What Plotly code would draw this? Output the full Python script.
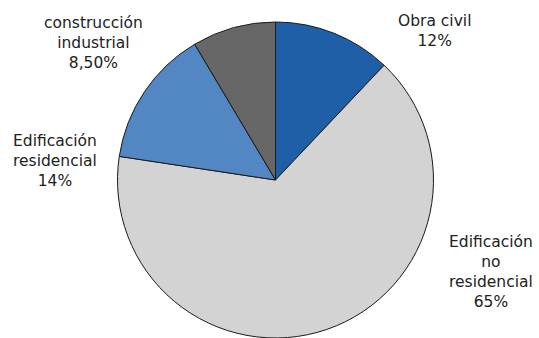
import plotly.graph_objects as go

# Construction output by segment (share of total, %)
segments = ["Obra civil", "Edificación no residencial", "Edificación residencial", "construcción industrial"]
shares = [12, 65, 14, 8.5]
share_labels = ["12%", "65%", "14%", "8,50%"]
label_lines = ["Obra civil", "Edificación<br>no<br>residencial", "Edificación<br>residencial", "construcción<br>industrial"]
colors = ["#1F5FA8", "#D3D3D3", "#5387C3", "#676767"]

# Label anchor positions (pixels from top-left) for each segment
label_pos = [(434, 31), (491, 272), (55, 161), (94, 43)]

W, H = 539, 338

fig = go.Figure(
    go.Pie(
        labels=segments,
        values=shares,
        sort=False,
        direction="clockwise",
        rotation=0,
        marker=dict(colors=colors, line=dict(color="#1a1a1a", width=1)),
        textinfo="none",
        hoverinfo="label+percent",
        domain=dict(x=[116 / W, 435 / W], y=[0, 316 / H]),
        showlegend=False,
    )
)

for text, pct, (px, py) in zip(label_lines, share_labels, label_pos):
    fig.add_annotation(
        x=px / W,
        y=1 - py / H,
        xref="paper",
        yref="paper",
        xanchor="center",
        yanchor="middle",
        align="center",
        showarrow=False,
        text=f"{text}<br>{pct}",
        font=dict(family="DejaVu Sans", size=15.5, color="#222222"),
    )

fig.update_layout(
    width=W,
    height=H,
    margin=dict(l=0, r=0, t=0, b=0),
    paper_bgcolor="white",
    plot_bgcolor="white",
)

fig.write_html("out.html")
